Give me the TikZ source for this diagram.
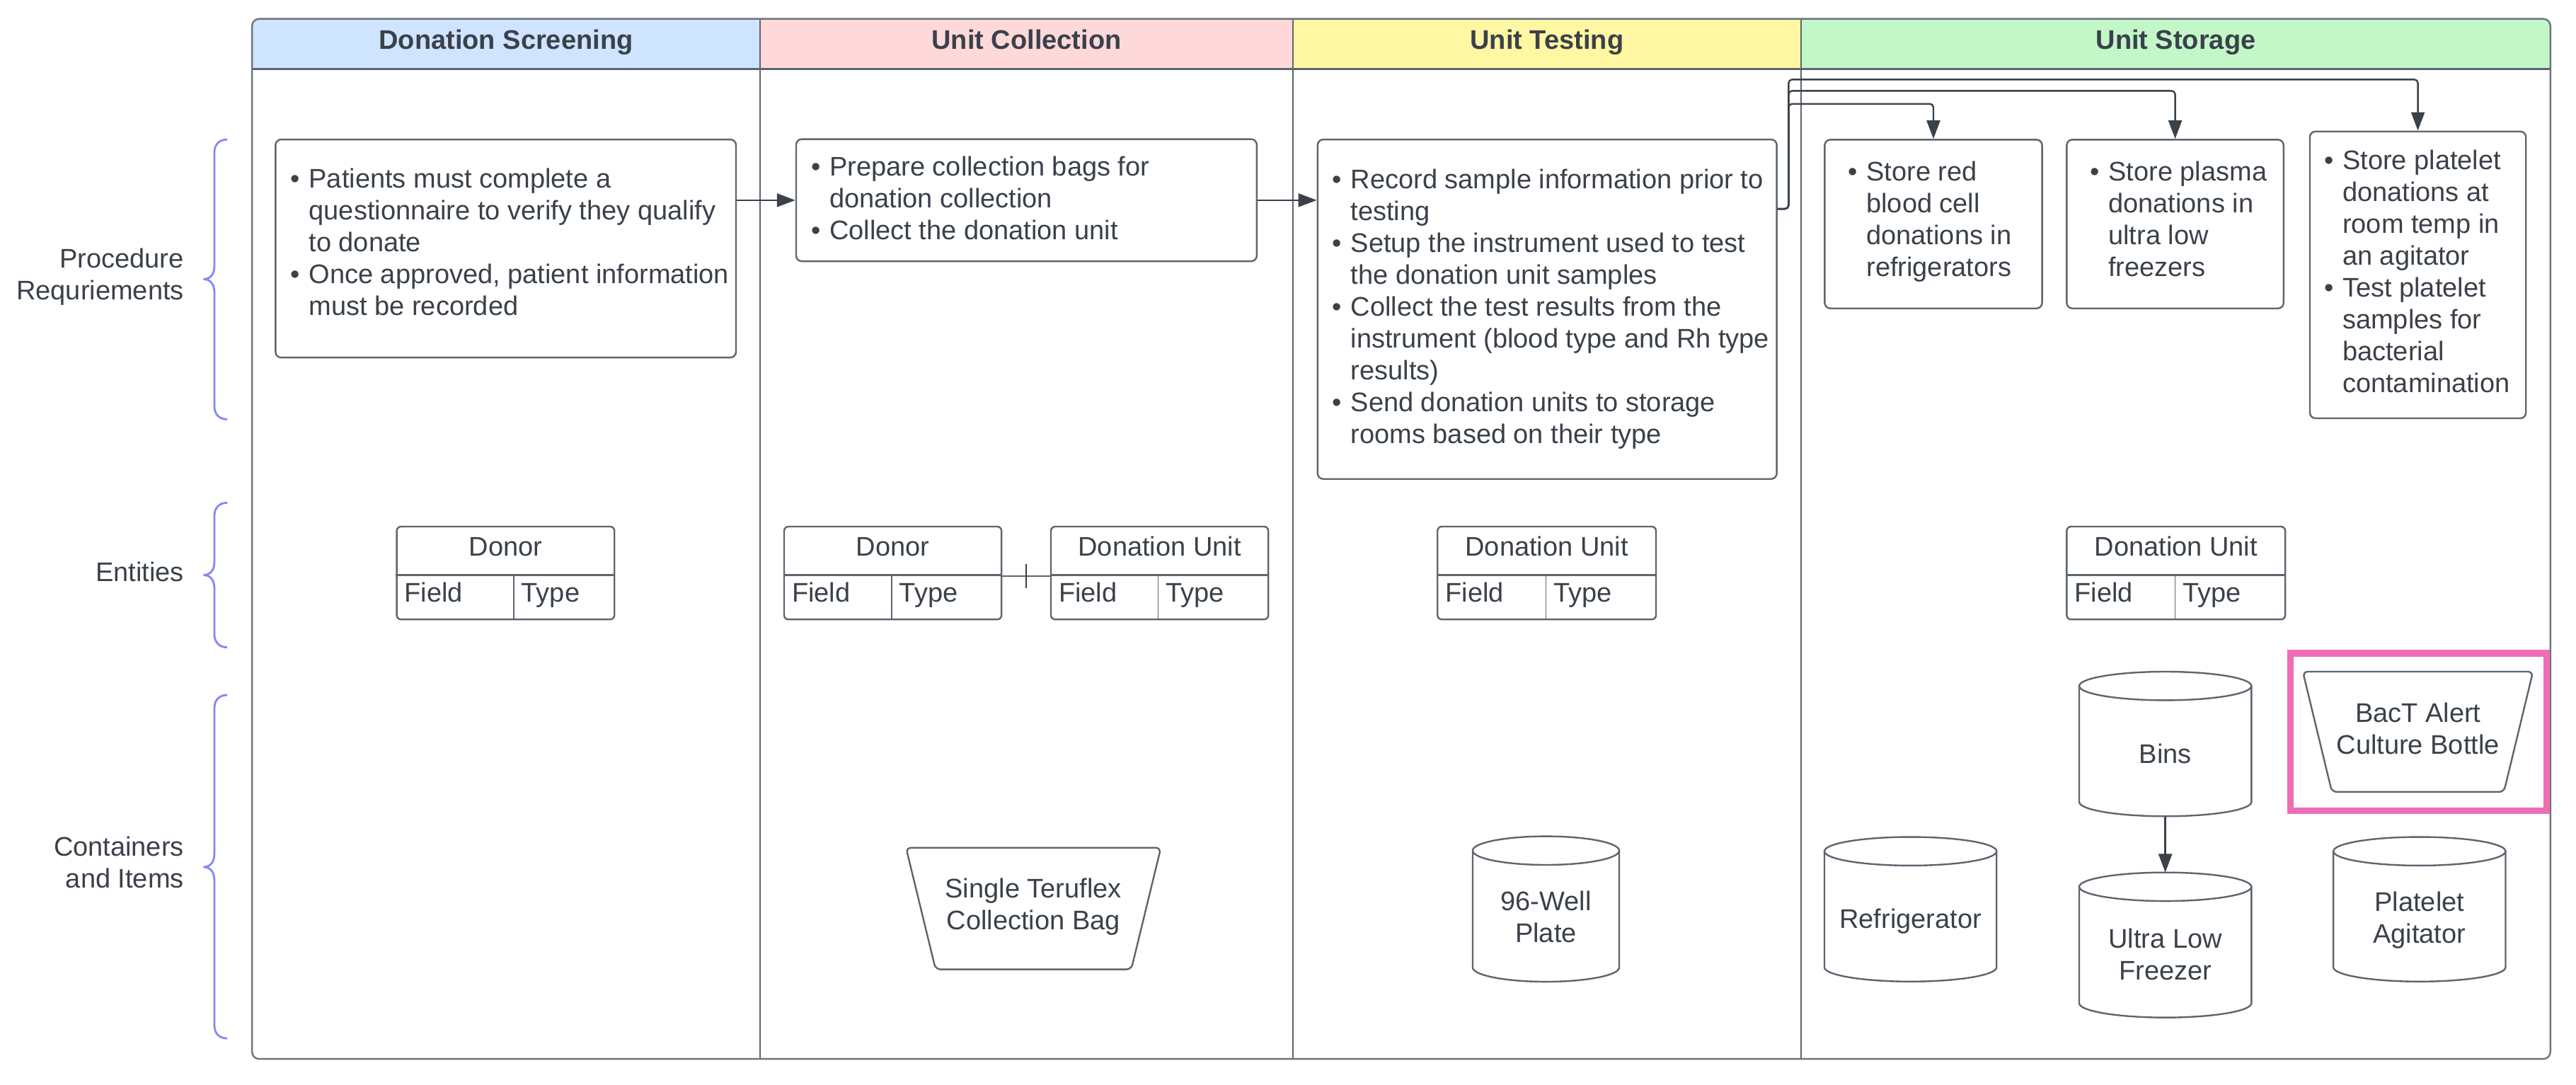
\documentclass[tikz,border=0pt]{standalone}
\usepackage{fontspec}
\setmainfont{Liberation Sans}
\usetikzlibrary{arrows.meta,fit,calc}
\definecolor{txt}{HTML}{3A414A}
\definecolor{bord}{HTML}{5E656F}
\definecolor{frm}{HTML}{6E757E}
\definecolor{hblue}{HTML}{CFE4FF}
\definecolor{hpink}{HTML}{FFD9D9}
\definecolor{hyel}{HTML}{FFF7A1}
\definecolor{hgrn}{HTML}{C3F7C8}
\definecolor{brc}{HTML}{8686F6}
\definecolor{pnk}{HTML}{EF6DB4}
\newcommand\bb{\makebox[26pt][l]{\textbullet}}
\newcommand\cylshape[5]{%
  \node[inner sep=0pt, fit={(#2-#5,#3) (#2+#5,#4)}] (#1) {};
  \draw[shp] (#2,#3+8.7) ellipse [x radius=#5, y radius=8.7];
  \draw[shp] (#2-#5,#3+8.7) -- (#2-#5,#4-8.7)
    .. controls (#2-#5,#4-8.7+4.8) and (#2-0.5523*#5,#4) .. (#2,#4)
    .. controls (#2+0.5523*#5,#4) and (#2+#5,#4-8.7+4.8) .. (#2+#5,#4-8.7)
    -- (#2+#5,#3+8.7);}
\newcommand\trapshape[6]{%
  \node[inner sep=0pt, fit={(#2,#4) (#3,#5)}] (#1) {};
  \draw[shp, rounded corners=7pt] (#2,#4) -- (#3,#4) -- (#3-#6,#5) -- (#2+#6,#5) -- cycle;}
\newcommand\tbl[5]{%
  \node[pbox, rounded corners=6pt, fit={(#2,320.5) (#3,377)}] (#1) {};
  \draw[bord, line width=2.4pt] (#1.west |- 0,350) -- (#1.east |- 0,350);
  \draw[bord, line width=1.6pt] (#4,350) -- (#4,377);
  \node[txtn, anchor=base] (#1-h) at (#1.north |- 0,338.2) {#5};
  \node[txtn, anchor=base west] (#1-f) at (#2+4.7,366.5) {Field};
  \node[txtn, anchor=base west] (#1-y) at (#4+4.6,366.5) {Type};}
\newcommand\mybrace[3]{%
  \draw[brc, line width=2.8pt] (138.3,#1) .. controls (133.5,#1) and (130.5,#1+3) .. (130.5,#1+8)
    -- (130.5,#3-8) .. controls (130.5,#3-3) and (128,#3) .. (123.9,#3)
    .. controls (128,#3) and (130.5,#3+3) .. (130.5,#3+8)
    -- (130.5,#2-8) .. controls (130.5,#2-3) and (133.5,#2) .. (138.3,#2);}
\begin{document}
\begin{tikzpicture}[x=2.3214pt, y=-2.3214pt,
  txtn/.style={inner sep=0pt, text=txt, font=\fontsize{38}{45}\selectfont},
  hdr/.style={txtn, font=\fontsize{38}{45}\selectfont\bfseries},
  btext/.style={txtn, anchor=north west},
  pbox/.style={draw=bord, line width=2.4pt, rounded corners=8pt, inner sep=0pt},
  shp/.style={draw=bord, line width=2.4pt},
  conn/.style={draw=txt, line width=2.4pt, -{Triangle[length=26pt,width=19pt]}}]
\useasboundingbox (0,0) rectangle (1568,660);
\fill[white] (0,0) rectangle (1568,660);

% swimlane frame and headers
\begin{scope}
  \clip[rounded corners=10pt] (153.4,11.5) rectangle (1552.4,644.5);
  \fill[hblue] (153.4,11.5) rectangle (462.7,41.9);
  \fill[hpink] (462.7,11.5) rectangle (786.8,41.9);
  \fill[hyel] (786.8,11.5) rectangle (1096.4,41.9);
  \fill[hgrn] (1096.4,11.5) rectangle (1552.4,41.9);
\end{scope}
\draw[bord, line width=2pt] (462.7,11.5) -- (462.7,644.5);
\draw[bord, line width=2pt] (786.8,11.5) -- (786.8,644.5);
\draw[bord, line width=2pt] (1096.4,11.5) -- (1096.4,644.5);
\draw[bord, line width=2.6pt] (153.4,41.9) -- (1552.4,41.9);
\draw[frm, line width=2.4pt, rounded corners=10pt] (153.4,11.5) rectangle (1552.4,644.5);

\node[hdr, anchor=base] (h1) at (308,29.9) {Donation Screening};
\node[hdr, anchor=base] (h2) at (624.8,29.9) {Unit Collection};
\node[hdr, anchor=base] (h3) at (941.6,29.9) {Unit Testing};
\node[hdr, anchor=base] (h4) at (1324.4,29.9) {Unit Storage};

% row labels and braces
\node[txtn, align=right, anchor=east] (lp) at (112,168.85) {\strut Procedure\\\strut Requriements};
\node[txtn, anchor=base east] (le) at (112,353.7) {Entities};
\node[txtn, align=right, anchor=east] (lc) at (112,526.8) {\strut Containers\\\strut and Items};
\mybrace{84.9}{255.2}{169.9}
\mybrace{306}{394}{350}
\mybrace{423}{632}{527.7}

% procedure boxes
\node[pbox, fit={(167.7,84.9) (448,217.6)}] (b1) {};
\node[btext] (b1t) at (176.8,100.5) {\begin{tabular}{@{}l@{}l@{}}\bb&Patients must complete a\\&questionnaire to verify they qualify\\&to donate\\\bb&Once approved, patient information\\&must be recorded\end{tabular}};
\node[pbox, fit={(484.6,84.7) (765,159)}] (b2) {};
\node[btext] (b2t) at (493.7,93.3) {\begin{tabular}{@{}l@{}l@{}}\bb&Prepare collection bags for\\&donation collection\\\bb&Collect the donation unit\end{tabular}};
\node[pbox, fit={(802,84.9) (1081.5,291.5)}] (b3) {};
\node[btext] (b3t) at (810.9,101.2) {\begin{tabular}{@{}l@{}l@{}}\bb&Record sample information prior to\\&testing\\\bb&Setup the instrument used to test\\&the donation unit samples\\\bb&Collect the test results from the\\&instrument (blood type and Rh type\\&results)\\\bb&Send donation units to storage\\&rooms based on their type\end{tabular}};
\node[pbox, fit={(1110.7,85) (1243,187.7)}] (b4) {};
\node[btext] (b4t) at (1124.8,96.4) {\begin{tabular}{@{}l@{}l@{}}\bb&Store red\\&blood cell\\&donations in\\&refrigerators\end{tabular}};
\node[pbox, fit={(1258,85) (1390,187.7)}] (b5) {};
\node[btext] (b5t) at (1272.1,96.4) {\begin{tabular}{@{}l@{}l@{}}\bb&Store plasma\\&donations in\\&ultra low\\&freezers\end{tabular}};
\node[pbox, fit={(1406,80) (1537.5,254.6)}] (b6) {};
\node[btext] (b6t) at (1414.6,89.6) {\begin{tabular}{@{}l@{}l@{}}\bb&Store platelet\\&donations at\\&room temp in\\&an agitator\\\bb&Test platelet\\&samples for\\&bacterial\\&contamination\end{tabular}};

\draw[conn] (b1.east |- b2.west) -- (b2.west);
\draw[conn] (b2.east) -- (b2.east -| b3.west);
\coordinate (s0) at (b3.east |- 0,127.1);
\draw[conn, rounded corners=5pt] (s0) -- (1088.7,127.1) |- (b6.north |- 0,48.4) -- (b6.north);
\draw[conn, rounded corners=5pt] (s0) -- (1088.7,127.1) |- (b5.north |- 0,55.3) -- (b5.north);
\draw[conn, rounded corners=5pt] (s0) -- (1088.7,127.1) |- (b4.north |- 0,63.2) -- (b4.north);

% entities
\tbl{d1}{241.5}{374}{312.7}{Donor}
\tbl{d2}{477.3}{609.6}{542.8}{Donor}
\tbl{du2}{639.7}{772}{705}{Donation Unit}
\tbl{du3}{875}{1008}{941}{Donation Unit}
\tbl{du4}{1258}{1391}{1324}{Donation Unit}
\draw[bord, line width=2.4pt] (d2.east |- 0,350.6) -- (du2.west |- 0,350.6);
\coordinate (tk) at (624.6,350.6);
\draw[txt, line width=2.4pt] ($(tk)+(0,-7.3)$) -- ($(tk)+(0,7.3)$);

% containers and items
\trapshape{bag}{551.5}{706.6}{516}{590}{18}
\node[txtn, align=center] (bagt) at (629,552.2) {\strut Single Teruflex\\\strut Collection Bag};
\cylshape{well}{941}{509}{597.5}{44.6}
\node[txtn, align=center] (wellt) at (941,560.1) {\strut 96-Well\\\strut Plate};
\cylshape{fridge}{1162.9}{509.4}{597.4}{52.4}
\node[txtn, anchor=base] (fridget) at (1162.9,564.9) {Refrigerator};
\cylshape{bins}{1318}{408.8}{496.8}{52.4}
\node[txtn, anchor=base] (binst) at (1318,464.4) {Bins};
\cylshape{ulf}{1318}{531}{619.3}{52.4}
\node[txtn, align=center] (ulft) at (1318,582.9) {\strut Ultra Low\\\strut Freezer};
\cylshape{agit}{1472.7}{509.4}{597.4}{52.4}
\node[txtn, align=center] (agitt) at (1472.7,560.5) {\strut Platelet\\\strut Agitator};
\trapshape{bact}{1401.7}{1541.8}{408.8}{482}{17.7}
\node[txtn, align=center] (bactt) at (1471.8,445.2) {\strut BacT Alert\\\strut Culture Bottle};
\draw[conn] (bins.south) -- (ulf.north);
\draw[pnk, line width=9.3pt] (1394.1,397.6) rectangle (1550,493.4);
\end{tikzpicture}
\end{document}
